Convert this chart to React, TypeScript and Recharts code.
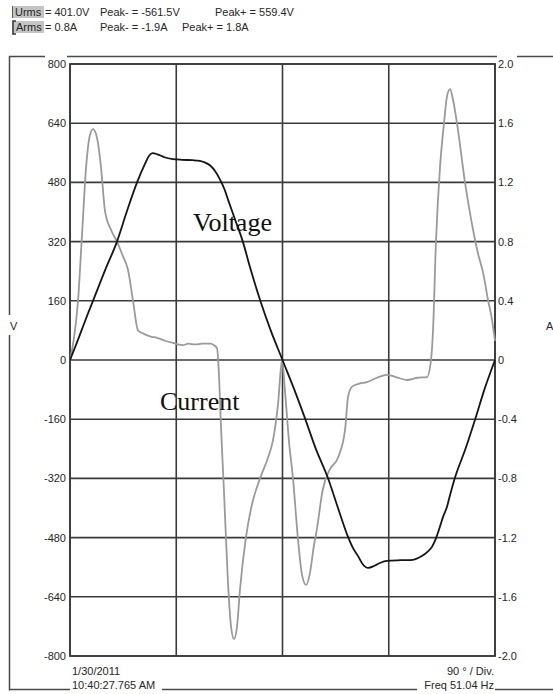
import React from "react";
import { LineChart, Line, XAxis, YAxis, ReferenceLine, ReferenceArea } from "recharts";

// Power-quality scope capture: one mains cycle of voltage and current.
const W = 553;
const H = 694;

const phaseTicks = [0, 90, 180, 270, 360];
const voltTicks = [-800, -640, -480, -320, -160, 0, 160, 320, 480, 640, 800];
const ampTicks = [-2, -1.6, -1.2, -0.8, -0.4, 0, 0.4, 0.8, 1.2, 1.6, 2];

// Voltage trace, phase in degrees and value in volts
const voltagePhase = [
  0, 5, 10, 15, 19.5, 30, 39.8, 48, 56.8, 63.5, 67, 70, 74, 80, 87, 95, 104, 110, 114, 119,
  123, 127, 131, 134, 140, 146, 153, 161, 170, 180, 190, 199, 208, 218.5, 227, 235.5, 240, 244,
  248, 252.5, 258, 263, 268.5, 280, 290.5, 298, 303, 306.6, 310, 313.4, 316, 319.3, 322, 326,
  335, 343, 351, 360,
];
const voltageValues = [
  0, 40, 82, 124, 160, 245, 320, 400, 480, 530, 552, 559, 556, 548, 543, 541, 540, 538, 534, 525,
  510, 488, 460, 432, 378, 324, 245, 162, 80, 0, -80, -157, -238, -319, -400, -478, -510, -530,
  -552, -562, -556, -548, -543, -541, -540, -530, -518, -505, -482, -450, -424, -397, -364, -319,
  -240, -162, -80, 0,
];

// Current trace, phase in degrees and value in amperes
const currentPhase = [
  0, 3.4, 6.8, 10.2, 13.6, 16.9, 19.5, 22.9, 26.3, 29.6, 34.7, 39.8, 44.9, 49.1, 53.4, 57.6,
  61.8, 67.8, 73.7, 80.5, 87.3, 95.7, 100, 105.9, 112, 118.6, 122, 124.5, 126.2, 127.9, 130.5,
  133.8, 136.4, 138.9, 141.5, 144, 149, 154, 161, 167.7, 172, 176.2, 179.6, 182, 185.5, 189,
  193, 196.5, 200, 203, 206.7, 209, 214, 220, 227, 233, 235.5, 239, 245, 251.6, 260, 268.5, 276,
  285.5, 294, 302.4, 305.8, 307.5, 310, 313.4, 316.8, 319.3, 321.9, 324.4, 327.8, 334.6, 341.4,
  345.6, 349.9, 354, 357.5, 360,
];
const currentValues = [
  0, 0.15, 0.4, 0.85, 1.3, 1.52, 1.56, 1.5, 1.3, 1.01, 0.88, 0.8, 0.7, 0.61, 0.4, 0.2,
  0.18, 0.16, 0.15, 0.13, 0.115, 0.1, 0.11, 0.105, 0.11, 0.11, 0.1, 0.08, -0.1, -0.45, -0.9,
  -1.5, -1.8, -1.885, -1.8, -1.55, -1.2, -0.98, -0.8, -0.66, -0.54, -0.3, 0, -0.2, -0.55, -0.81,
  -1.2, -1.45, -1.52, -1.45, -1.25, -1.15, -0.88, -0.74, -0.66, -0.47, -0.25, -0.18, -0.16,
  -0.15, -0.12, -0.1, -0.115, -0.135, -0.12, -0.115, 0, 0.2, 0.8, 1.3, 1.6, 1.78, 1.83, 1.76,
  1.6, 1.2, 0.88, 0.72, 0.59, 0.41, 0.27, 0.13,
];

const voltageData = voltagePhase.map((deg, i) => ({ deg, v: voltageValues[i] }));
const currentData = currentPhase.map((deg, i) => ({ deg, a: currentValues[i] }));

const SANS = "'Liberation Sans', Arial, sans-serif";
const SERIF = "'Liberation Serif', 'Times New Roman', serif";
const INK = "#262626";
const FRAME = "#4a4a4a";
const GRID = "#3a3a3a";

function Decorations() {
  const small = { fontFamily: SANS, fontSize: 11, fill: INK } as const;
  return (
    <svg width={W} height={H} style={{ position: "absolute", left: 0, top: 0 }}>
      {/* readout header */}
      <rect x={12} y={6} width={32} height={12} fill="#c4c4c4" />
      <line x1={12.5} y1={6} x2={12.5} y2={18} stroke="#555" strokeWidth={1} />
      <rect x={14} y={21} width={30} height={12} fill="#c4c4c4" />
      <path d="M16 21 H13 V34 H16" fill="none" stroke="#333" strokeWidth={1.6} />
      <text {...small} x={15} y={16}>Urms</text>
      <text {...small} x={45} y={16}>= 401.0V</text>
      <text {...small} x={100} y={16}>Peak- = -561.5V</text>
      <text {...small} x={215} y={16}>Peak+ = 559.4V</text>
      <text {...small} x={16} y={31}>Arms</text>
      <text {...small} x={45} y={31}>= 0.8A</text>
      <text {...small} x={100} y={31}>Peak- = -1.9A</text>
      <text {...small} x={182} y={31}>Peak+ = 1.8A</text>

      {/* outer frame */}
      <g stroke={FRAME} strokeWidth={1.5}>
        <line x1={9} y1={56.5} x2={45} y2={56.5} />
        <line x1={67} y1={56.5} x2={497} y2={56.5} />
        <line x1={517} y1={56.5} x2={553} y2={56.5} />
        <line x1={9.5} y1={56} x2={9.5} y2={315} />
        <line x1={9.5} y1={335} x2={9.5} y2={690.5} />
        <line x1={9} y1={689.5} x2={70} y2={689.5} />
        <line x1={162} y1={689.5} x2={417} y2={689.5} />
        <line x1={495} y1={689.5} x2={553} y2={689.5} />
      </g>
      <text {...small} x={10} y={330}>V</text>
      <text {...small} x={546} y={330}>A</text>

      {/* footer */}
      <text {...small} x={72} y={675}>1/30/2011</text>
      <text {...small} x={72} y={689}>10:40:27.765 AM</text>
      <text {...small} x={494} y={675} textAnchor="end">90 ° / Div.</text>
      <text {...small} x={494} y={689} textAnchor="end">Freq 51.04 Hz</text>

      {/* trace names */}
      <text x={193} y={231} fontFamily={SERIF} fontSize={26} fill="#111">Voltage</text>
      <text x={160} y={410} fontFamily={SERIF} fontSize={26} fill="#111">Current</text>
    </svg>
  );
}

export default function App() {
  const tickStyle = { fontSize: 11, fill: INK, fontFamily: SANS };
  return (
    <div style={{ position: "absolute", left: 0, top: 0, width: W, height: H, background: "#fff" }}>
      <LineChart
        width={W}
        height={H}
        margin={{ top: 64, right: 18, bottom: 38, left: 10 }}
        style={{ position: "absolute", left: 0, top: 0 }}
      >
        <XAxis
          xAxisId="p"
          dataKey="deg"
          type="number"
          domain={[0, 360]}
          ticks={phaseTicks}
          hide
          allowDuplicatedCategory={false}
        />
        <YAxis
          yAxisId="v"
          orientation="left"
          type="number"
          domain={[-800, 800]}
          ticks={voltTicks}
          interval={0}
          width={60}
          axisLine={false}
          tickLine={false}
          tickSize={0}
          tickMargin={4}
          tick={tickStyle}
          tickFormatter={(t: number) => String(t)}
        />
        <YAxis
          yAxisId="a"
          orientation="right"
          type="number"
          domain={[-2, 2]}
          ticks={ampTicks}
          interval={0}
          width={40}
          axisLine={false}
          tickLine={false}
          tickSize={0}
          tickMargin={3}
          tick={tickStyle}
          tickFormatter={(t: number) => (t === 0 ? "0" : t.toFixed(1))}
        />
        {voltTicks.map((t) => (
          <ReferenceLine key={"h" + t} xAxisId="p" yAxisId="v" y={t} stroke={GRID} strokeWidth={1.6} />
        ))}
        {phaseTicks.map((t) => (
          <ReferenceLine key={"x" + t} xAxisId="p" yAxisId="v" x={t} stroke={GRID} strokeWidth={1.6} />
        ))}
        <ReferenceArea
          xAxisId="p"
          yAxisId="v"
          x1={0}
          x2={360}
          y1={-800}
          y2={800}
          fill="none"
          fillOpacity={0}
          stroke="#555"
          strokeWidth={2}
        />
        <Line
          data={currentData}
          xAxisId="p"
          yAxisId="a"
          dataKey="a"
          type="monotone"
          stroke="#9a9a9a"
          strokeWidth={1.8}
          dot={false}
          isAnimationActive={false}
        />
        <Line
          data={voltageData}
          xAxisId="p"
          yAxisId="v"
          dataKey="v"
          type="monotone"
          stroke="#151515"
          strokeWidth={1.8}
          dot={false}
          isAnimationActive={false}
        />
      </LineChart>
      <Decorations />
    </div>
  );
}
